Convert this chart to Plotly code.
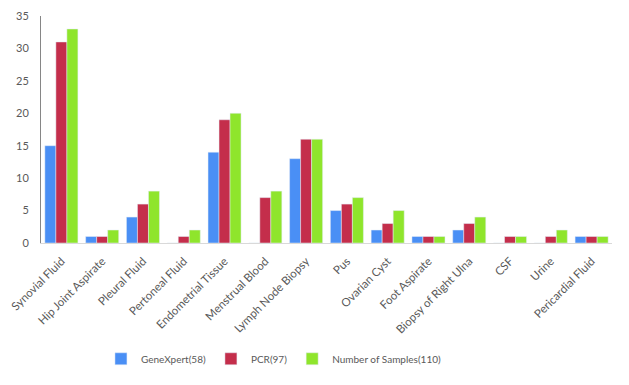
import plotly.graph_objects as go

categories = ["Synovial Fluid", "Hip Joint Aspirate", "Pleural Fluid", "Pertoneal Fluid",
              "Endometrial Tissue", "Menstrual Blood", "Lymph Node Biopsy", "Pus",
              "Ovarian Cyst", "Foot Aspirate", "Biopsy of Right Ulna", "CSF", "Urine",
              "Pericardial Fluid"]
genexpert = [15, 1, 4, 0, 14, 0, 13, 5, 2, 1, 2, 0, 0, 1]
pcr = [31, 1, 6, 1, 19, 7, 16, 6, 3, 1, 3, 1, 1, 1]
samples = [33, 2, 8, 2, 20, 8, 16, 7, 5, 1, 4, 1, 2, 1]
y_ticks = [0, 5, 10, 15, 20, 25, 30, 35]

font_fam = "Lato, Open Sans, sans-serif"
fig = go.Figure()
fig.add_trace(go.Bar(x=categories, y=genexpert, name="GeneXpert(58)", marker_color="#4A8FF5"))
fig.add_trace(go.Bar(x=categories, y=pcr, name="PCR(97)", marker_color="#C42E4B"))
fig.add_trace(go.Bar(x=categories, y=samples, name="Number of Samples(110)", marker_color="#8FE52C"))

fig.update_layout(
    width=629, height=385,
    margin=dict(l=41, r=17, t=16, b=140),
    paper_bgcolor="white", plot_bgcolor="white",
    barmode="group", bargap=0.19, bargroupgap=0,
    font=dict(family=font_fam, size=10, color="#595959"),
    legend=dict(orientation="h", x=0.105, xanchor="left", y=-0.51, yanchor="middle",
                font=dict(size=10, color="#595959"), itemwidth=30, traceorder="normal"),
    xaxis=dict(tickangle=-45, showline=True, linecolor="#D9D9D9", linewidth=1,
               showgrid=False, ticks="", automargin=False, ticklabelstandoff=6,
               tickfont=dict(size=11.5, color="#595959")),
    yaxis=dict(range=[0, 35], tickvals=y_ticks, showline=True, linecolor="#868686",
               linewidth=1, showgrid=False, zeroline=False, ticks="", automargin=False,
               ticklabelstandoff=9,
               tickfont=dict(size=11, color="#595959")),
)
fig.write_html("out.html", config={"displayModeBar": False},
               post_script="document.body.style.margin='0';")
